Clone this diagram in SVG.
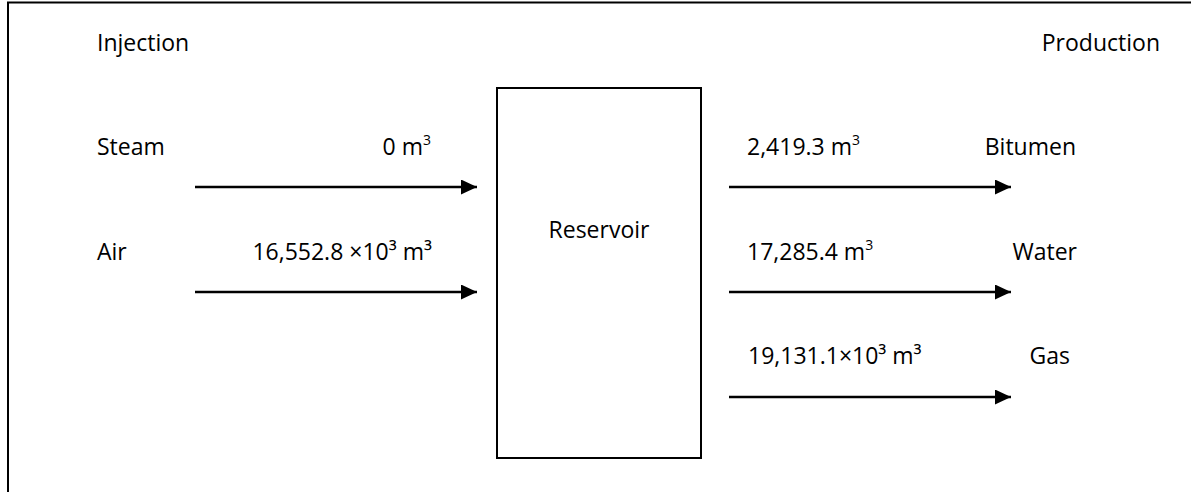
<svg xmlns="http://www.w3.org/2000/svg" width="1191" height="492" viewBox="0 0 1191 492">
  <style>
    .lbl { font-family: "Open Sans", "Liberation Sans", sans-serif; font-size: 23px; fill: #000; }
    .frame { stroke: #000; stroke-width: 2; fill: none; }
    .flow { stroke: #000; stroke-width: 2.5; fill: none; marker-end: url(#head); }
    .sup { font-size: 14px; }
  </style>
  <defs>
    <marker id="head" viewBox="0 0 16 15" refX="16" refY="7.5" markerWidth="16" markerHeight="15" markerUnits="userSpaceOnUse" orient="auto">
      <path d="M0,0 L16,7.5 L0,15 Z" fill="#000"/>
    </marker>
  </defs>
  <rect width="1191" height="492" fill="#fff"/>

  <!-- page border (top and left edges) -->
  <path class="frame" d="M8,492 V2.5 H1191"/>

  <!-- column headings -->
  <text class="lbl" x="97" y="51">Injection</text>
  <text class="lbl" x="1160" y="51" text-anchor="end">Production</text>

  <!-- central reservoir -->
  <g id="reservoir">
    <rect x="497" y="88" width="204" height="370" fill="#fff" stroke="#000" stroke-width="2"/>
    <text class="lbl" x="599" y="238" text-anchor="middle">Reservoir</text>
  </g>

  <!-- injection streams -->
  <g id="steam">
    <text class="lbl" x="97" y="155">Steam</text>
    <text class="lbl" x="431" y="155" text-anchor="end">0 m<tspan class="sup" dy="-10">3</tspan></text>
  </g>
  <g id="air">
    <text class="lbl" x="432" y="260" text-anchor="end">16,552.8 ×10³ m³</text>
    <text class="lbl" x="97" y="260">Air</text>
  </g>

  <!-- production streams -->
  <g id="bitumen">
    <text class="lbl" x="747" y="155">2,419.3 m<tspan class="sup" dy="-10">3</tspan></text>
    <text class="lbl" x="1076" y="155" text-anchor="end">Bitumen</text>
  </g>
  <g id="water">
    <text class="lbl" x="747" y="260">17,285.4 m<tspan class="sup" dy="-10">3</tspan></text>
    <text class="lbl" x="1077" y="260" text-anchor="end">Water</text>
  </g>
  <g id="gas">
    <text class="lbl" x="748" y="364">19,131.1×10³ m³</text>
    <text class="lbl" x="1070" y="364" text-anchor="end">Gas</text>
  </g>

  <!-- flow arrows -->
  <g id="connectors">
    <line class="flow" x1="195" y1="187" x2="477" y2="187"/>
    <line class="flow" x1="195" y1="292" x2="477" y2="292"/>
    <line class="flow" x1="729" y1="187" x2="1011" y2="187"/>
    <line class="flow" x1="729" y1="292" x2="1011" y2="292"/>
    <line class="flow" x1="729" y1="397" x2="1011" y2="397"/>
  </g>
</svg>
